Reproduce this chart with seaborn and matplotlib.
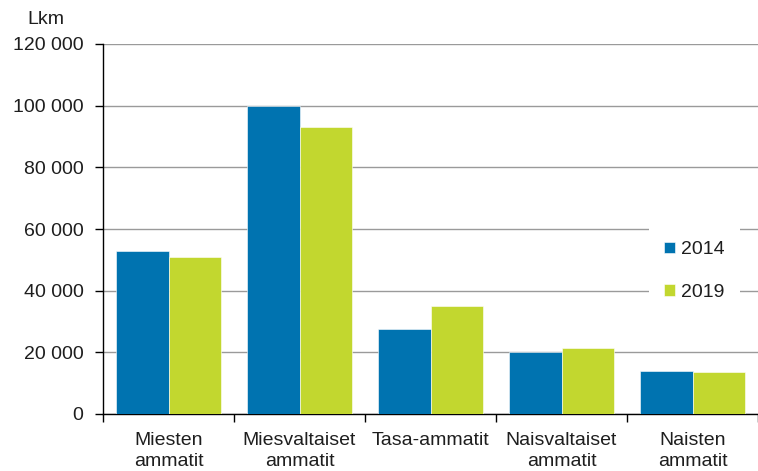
import pandas as pd
import matplotlib
matplotlib.use("Agg")
import matplotlib.pyplot as plt
import matplotlib.ticker as mticker
import seaborn as sns

# Data
categories = ["Miesten\nammatit", "Miesvaltaiset\nammatit", "Tasa-ammatit",
              "Naisvaltaiset\nammatit", "Naisten\nammatit"]
years = ["2014", "2019"]
values_2014 = [53000, 99900, 27500, 20200, 14000]
values_2019 = [51000, 93200, 34900, 21300, 13500]
y_ticks = [0, 20000, 40000, 60000, 80000, 100000, 120000]

colors = {"2014": "#0073b0", "2019": "#c2d72f"}


def main():
    df = pd.DataFrame({
        "category": categories * 2,
        "year": [years[0]] * len(categories) + [years[1]] * len(categories),
        "value": values_2014 + values_2019,
    })

    sns.set_theme(style="white")
    plt.rcParams["font.family"] = ["Liberation Sans", "DejaVu Sans"]
    text_color = "#1e1e1e"
    fs = 14

    fig = plt.figure(figsize=(7.58, 4.71), dpi=100)
    ax = fig.add_axes([103 / 758, 57 / 471, 655 / 758, 370 / 471])

    sns.barplot(data=df, x="category", y="value", hue="year",
                palette=colors, width=0.8, gap=0, saturation=1,
                edgecolor="white", linewidth=0.4, ax=ax, zorder=3)

    ax.set_xlim(-0.5, len(categories) - 0.5)
    ax.set_ylim(0, 120000)
    ax.set_yticks(y_ticks)
    ax.yaxis.set_major_formatter(
        mticker.FuncFormatter(lambda v, _: f"{int(v):,}".replace(",", " ")))
    ax.grid(axis="y", color="#9a9a9a", linewidth=1.0, zorder=0)
    ax.set_axisbelow(True)

    # category boundary ticks on x axis
    ax.set_xticks([i - 0.5 for i in range(len(categories) + 1)], minor=True)
    ax.tick_params(axis="x", which="major", length=0, pad=13,
                   labelsize=fs, labelcolor=text_color)
    ax.tick_params(axis="x", which="minor", length=6, width=1,
                   color="black", direction="out", bottom=True)
    ax.tick_params(axis="y", length=6, width=1, color="black",
                   direction="out", left=True, pad=8,
                   labelsize=fs, labelcolor=text_color)
    for lbl in ax.get_xticklabels():
        lbl.set_linespacing(1.3)

    for side in ["top", "right"]:
        ax.spines[side].set_visible(False)
    for side in ["left", "bottom"]:
        ax.spines[side].set_color("black")
        ax.spines[side].set_linewidth(1.0)

    ax.set_xlabel("")
    ax.set_ylabel("")

    leg = ax.legend(loc="upper left", bbox_to_anchor=(0.818, 0.535),
                    frameon=True, facecolor="white", edgecolor="none",
                    framealpha=1, fontsize=fs, labelspacing=1.3,
                    handlelength=0.55, handleheight=0.55, handletextpad=0.3,
                    borderpad=0.8, fancybox=False)
    for t in leg.get_texts():
        t.set_color(text_color)
    leg.set_zorder(5)

    fig.text(27 / 758, 1 - 20 / 471, "Lkm", fontsize=fs, color=text_color,
             va="center", ha="left")

    fig.savefig("out.png", dpi=100)
    plt.close(fig)


if __name__ == "__main__":
    main()
